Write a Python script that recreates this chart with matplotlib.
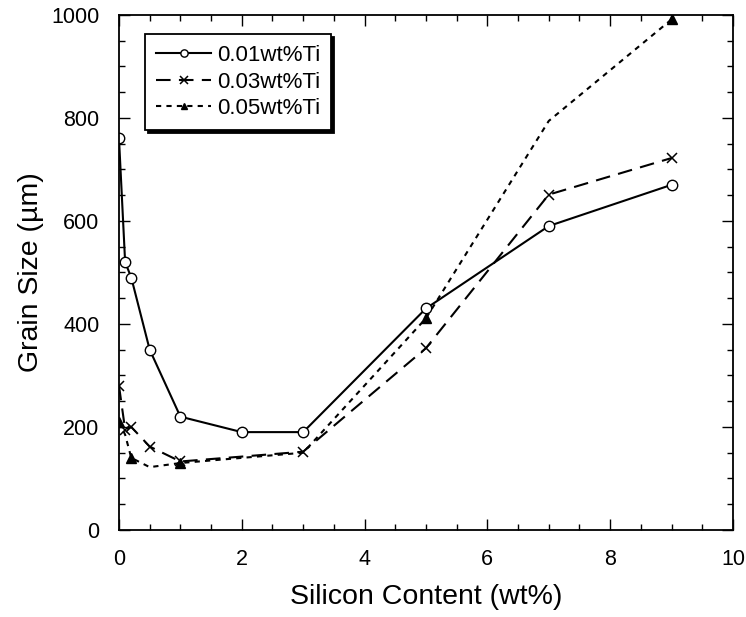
import matplotlib
matplotlib.use('Agg')
import matplotlib.pyplot as plt
from matplotlib.ticker import MultipleLocator

plt.rcParams['font.family'] = ['Liberation Sans', 'DejaVu Sans']

# data
si_01 = [0, 0.1, 0.2, 0.5, 1, 2, 3, 5, 7, 9]
gs_01 = [760, 520, 490, 350, 220, 190, 190, 430, 590, 670]

si_03 = [0, 0.1, 0.2, 0.5, 1, 3, 5, 7, 9]
gs_03 = [280, 195, 200, 162, 133, 152, 353, 651, 722]

si_05 = [0, 0.1, 0.2, 0.5, 1, 3, 5, 7, 9]
gs_05 = [210, 185, 140, 122, 130, 150, 411, 794, 991]
marks_05 = [0, 2, 4, 6, 8]  # points drawn with a marker

labels = ['0.01wt%Ti', '0.03wt%Ti', '0.05wt%Ti']

fig = plt.figure(figsize=(7.46, 6.17), dpi=100)
ax = fig.add_axes([0.1595, 0.141, 0.823, 0.835])

ax.plot(si_01, gs_01, '-', color='black', lw=1.5, marker='o', ms=7.5,
        mfc='white', mec='black', mew=1.0, label=labels[0])
ax.plot(si_03, gs_03, color='black', lw=1.5, ls=(0, (7, 4)), marker='x',
        ms=7.5, mew=1.1, label=labels[1])
ax.plot(si_05, gs_05, color='black', lw=1.5, ls=(0, (2.5, 2.5)), marker='^',
        ms=6.5, markevery=marks_05, label=labels[2])

ax.set_xlim(0, 10)
ax.set_ylim(0, 1000)
ax.xaxis.set_major_locator(MultipleLocator(2))
ax.xaxis.set_minor_locator(MultipleLocator(0.5))
ax.yaxis.set_major_locator(MultipleLocator(200))
ax.yaxis.set_minor_locator(MultipleLocator(50))
ax.tick_params(which='both', direction='in', top=True, right=True, width=1.0)
ax.tick_params(which='major', length=8, labelsize=15.5, pad=14)
ax.tick_params(which='minor', length=4)
for s in ax.spines.values():
    s.set_linewidth(1.3)

ax.set_xlabel('Silicon Content (wt%)', fontsize=20.5, labelpad=10)
ax.set_ylabel('Grain Size (µm)', fontsize=20.5, labelpad=5)

leg = ax.legend(loc='upper left', bbox_to_anchor=(0.042, 0.963),
                borderaxespad=0, fontsize=16, frameon=True, fancybox=False,
                shadow={'color': 'black', 'alpha': 1}, edgecolor='black',
                handlelength=2.5, handletextpad=0.25, labelspacing=0.25,
                borderpad=0.5, markerscale=0.7)
leg.get_frame().set_linewidth(1.3)

fig.savefig('out.png', dpi=100)
